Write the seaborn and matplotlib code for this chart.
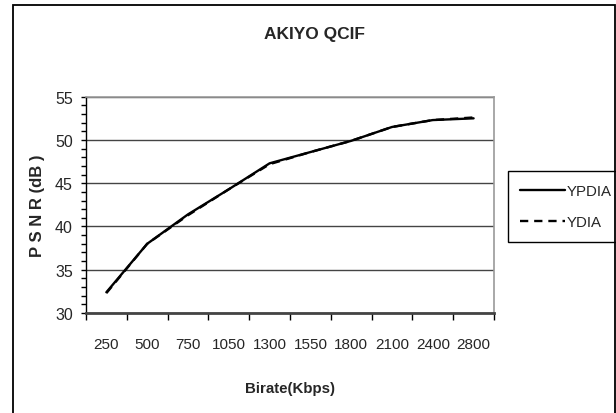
import numpy as np
import pandas as pd
import seaborn as sns
import matplotlib.pyplot as plt
from matplotlib.patches import Rectangle
from matplotlib.ticker import MultipleLocator, FixedLocator

# data
bitrates = ['250', '500', '750', '1050', '1300', '1550', '1800', '2100', '2400', '2800']
ypdia = [32.4, 38.0, 41.4, 44.3, 47.3, 48.6, 49.9, 51.5, 52.3, 52.5]
ydia = [32.3, 38.0, 41.3, 44.3, 47.2, 48.6, 49.9, 51.5, 52.3, 52.6]

pos = list(range(len(bitrates)))
df = pd.DataFrame({
    'pos': pos + pos,
    'psnr': ypdia + ydia,
    'series': ['YPDIA'] * len(pos) + ['YDIA'] * len(pos),
})

sns.set_style('white')
plt.rcParams['font.family'] = ['Liberation Sans', 'DejaVu Sans']

fig = plt.figure(figsize=(6.16, 4.14), dpi=100)
ax = fig.add_axes([86 / 616, 1 - 314 / 414, 408 / 616, 216.3 / 414])

sns.lineplot(data=df, x='pos', y='psnr', hue='series', style='series',
             palette={'YPDIA': 'black', 'YDIA': 'black'},
             dashes={'YPDIA': '', 'YDIA': (3.5, 2.5)},
             linewidth=1.7, ax=ax)

ax.set_xlim(-0.5, len(bitrates) - 0.5)
ax.set_ylim(30, 55)

# category labels at centres, tick marks at boundaries
ax.xaxis.set_major_locator(FixedLocator(pos))
ax.set_xticklabels(bitrates)
ax.xaxis.set_minor_locator(FixedLocator(np.arange(-0.5, len(bitrates), 1.0)))
ax.tick_params(axis='x', which='major', length=0, pad=17, labelsize=11)
ax.tick_params(axis='x', which='minor', bottom=True, length=5, width=1, color='black', direction='out')

ax.yaxis.set_major_locator(MultipleLocator(5))
ax.yaxis.set_minor_locator(MultipleLocator(1))
ax.tick_params(axis='y', which='both', left=True, length=3.5, width=1, color='black',
               direction='out', pad=6, labelsize=11.5)

ax.grid(axis='y', which='major', color='#444444', linewidth=1)
ax.grid(axis='x', visible=False)

for side in ['top', 'right']:
    ax.spines[side].set_color('#999999')
    ax.spines[side].set_linewidth(1.2)
ax.spines['left'].set_color('black')
ax.spines['left'].set_linewidth(1)
ax.spines['bottom'].set_color('#444444')
ax.spines['bottom'].set_linewidth(2)

ax.set_xlabel('Birate(Kbps)', fontsize=10.8, fontweight='bold')
ax.set_ylabel('P S N R (dB )', fontsize=12, fontweight='bold')
ax.xaxis.set_label_coords(0.5, (314 - 382) / 216.3)
ax.yaxis.set_label_coords((45 - 86) / 408, 0.5)

fig.text(314 / 616, 1 - 35 / 414, 'AKIYO QCIF', ha='center', va='center',
         fontsize=12.5, fontweight='bold')

handles, labels = ax.get_legend_handles_labels()
ax.legend(handles, labels, loc='upper left',
          bbox_to_anchor=(507.7 / 616, 1 - 172 / 414), bbox_transform=fig.transFigure,
          borderaxespad=0, fancybox=False, framealpha=1, edgecolor='black',
          fontsize=10.8, handlelength=3.0, handletextpad=0.1, labelspacing=1.15,
          borderpad=0.85)
ax.get_legend().get_frame().set_linewidth(1)

# outer chart frame
fig.patches.append(Rectangle((13 / 616, -0.1), (615 - 13) / 616, 1 - 5.7 / 414 + 0.1,
                             transform=fig.transFigure, fill=False,
                             edgecolor='black', linewidth=1.3))

fig.savefig('out.png', dpi=100)
